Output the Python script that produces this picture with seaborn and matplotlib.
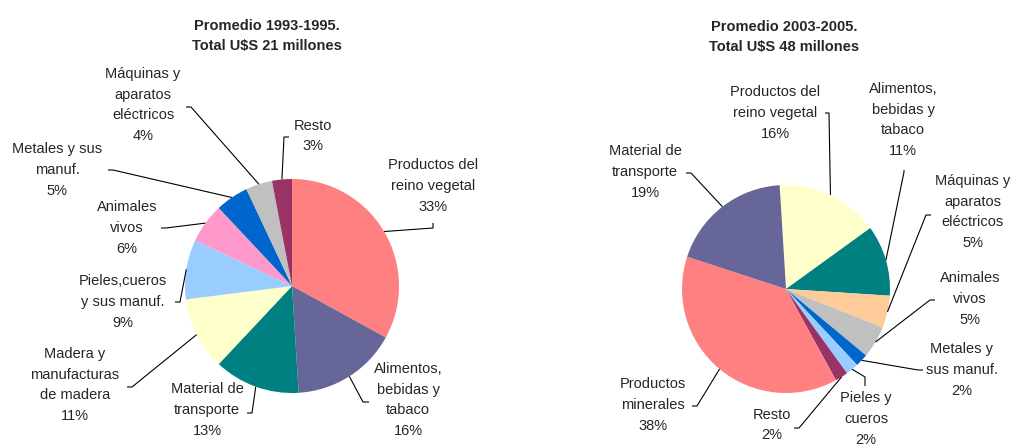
"""
Exportaciones por rubro: dos tortas (promedios 1993-1995 y 2003-2005)
"""

import numpy as np
import matplotlib
matplotlib.use("Agg")
import matplotlib.pyplot as plt
import seaborn as sns

# ---- datos ----
labels_9395 = [
    "Productos del\nreino vegetal",
    "Alimentos,\nbebidas y\ntabaco",
    "Material de\ntransporte",
    "Madera y\nmanufacturas\nde madera",
    "Pieles,cueros\ny sus manuf.",
    "Animales\nvivos",
    "Metales y sus\nmanuf.",
    "Máquinas y\naparatos\neléctricos",
    "Resto",
]
values_9395 = [33, 16, 13, 11, 9, 6, 5, 4, 3]

labels_0305 = [
    "Productos del\nreino vegetal",
    "Alimentos,\nbebidas y\ntabaco",
    "Máquinas y\naparatos\neléctricos",
    "Animales\nvivos",
    "Metales y\nsus manuf.",
    "Pieles y\ncueros",
    "Resto",
    "Productos\nminerales",
    "Material de\ntransporte",
]
values_0305 = [16, 11, 5, 5, 2, 2, 2, 38, 19]

title_9395 = "Promedio 1993-1995.\nTotal U$S 21 millones"
title_0305 = "Promedio 2003-2005.\nTotal U$S 48 millones"

# ---- estilo ----
colors_9395 = ["#FF8080", "#666699", "#008080", "#FFFFCC", "#99CCFF",
               "#FF99CC", "#0066CC", "#C0C0C0", "#993366"]
colors_0305 = ["#FFFFCC", "#008080", "#FFCC99", "#C0C0C0", "#0066CC",
               "#99CCFF", "#993366", "#FF8080", "#666699"]

sns.set_style("white")
plt.rcParams["font.family"] = ["Liberation Sans", "DejaVu Sans"]

W, H = 1013, 447

# layout in pixel coords (x right, y down): text centre, elbow, stub end
layout_9395 = [
    ((433, 186), (433, 228), (433, 223)),
    ((408, 400), (363, 402), (369, 402)),
    ((207, 410), (252, 413), (247, 413)),
    ((75, 385), (132, 387), (127, 387)),
    ((123, 302), (180, 302), (175, 302)),
    ((127, 228), (166, 228), (161, 228)),
    ((57, 170), (113, 170), (108, 170)),
    ((143, 105), (191, 107), (186, 107)),
    ((313, 136), (284, 137), (289, 137)),
]
layout_0305 = [
    ((775, 113), (829, 113), (825, 113)),
    ((903, 120), (904, 172), (904, 170)),
    ((973, 212), (926, 215), (931, 215)),
    ((970, 299), (930, 300), (935, 300)),
    ((962, 370), (918, 370), (923, 370)),
    ((866, 419), (865, 377), (865, 386)),
    ((772, 425), (799, 428), (794, 428)),
    ((653, 405), (697, 406), (692, 406)),
    ((645, 172), (691, 173), (686, 173)),
]


def draw_pie(ax, values, labels, colors, layout, center, radius, start, title, title_pos):
    cx, cy = center
    wedges, _ = ax.pie(values, colors=colors, startangle=start, counterclock=False,
                       center=(cx, H - cy), radius=radius,
                       wedgeprops=dict(linewidth=0))
    total = sum(values)
    for w, lab, v, (tpos, elbow, stub) in zip(wedges, labels, values, layout):
        mid = np.deg2rad((w.theta1 + w.theta2) / 2)
        x0 = cx + radius * np.cos(mid)
        y0 = (H - cy) + radius * np.sin(mid)
        xs = [x0, elbow[0], stub[0]]
        ys = [y0, H - elbow[1], H - stub[1]]
        ax.plot(xs, ys, color="black", lw=0.8, solid_capstyle="butt")
        pct = round(100 * v / total)
        ax.text(tpos[0], H - tpos[1], f"{lab}\n{pct}%", ha="center", va="center",
                multialignment="center", fontsize=10.5, linespacing=1.6)
    ax.text(title_pos[0], H - title_pos[1], title, ha="center", va="center",
            fontsize=10.5, fontweight="bold", linespacing=1.6)


fig = plt.figure(figsize=(W / 100, H / 100), dpi=100)
ax = fig.add_axes([0, 0, 1, 1])

draw_pie(ax, values_9395, labels_9395, colors_9395, layout_9395,
         (292, 286), 107, 90, title_9395, (267, 36))
draw_pie(ax, values_0305, labels_0305, colors_0305, layout_0305,
         (786, 289), 104, 93.5, title_0305, (784, 37))

ax.set_xlim(0, W)
ax.set_ylim(0, H)
ax.set_aspect("equal")
ax.axis("off")

fig.savefig("out.png", dpi=100, facecolor="white")
